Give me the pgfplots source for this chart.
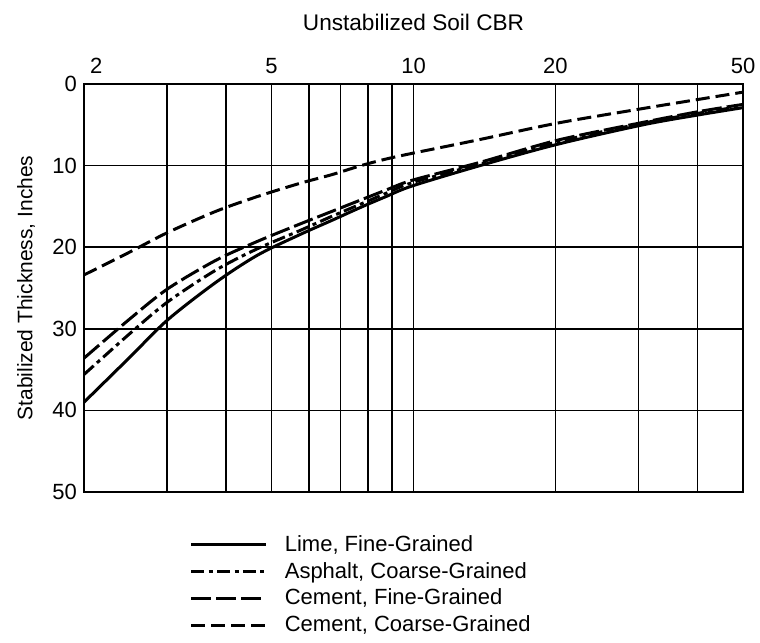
\documentclass[border=0pt]{standalone}
\usepackage{pgfplots}
\pgfplotsset{compat=1.18}
\usepackage{fontspec}
\setmainfont{Liberation Sans}
\begin{document}
\begin{tikzpicture}
\begin{axis}[
  name=main,
  scale only axis,
  width=329.5pt, height=204pt,
  xmode=log, log basis x=10,
  xmin=2, xmax=50, ymin=0, ymax=50,
  y dir=reverse,
  xtick={2,3,4,5,6,7,8,9,10,20,30,40,50},
  xticklabels={\rlap{\hspace{3pt}2},,,5,,,,,10,20,,,50},
  ytick={0,10,20,30,40,50},
  xticklabel pos=top,
  major tick length=0pt,
  minor tick num=0,
  grid=major,
  grid style={black, line width=0.75pt},
  axis line style={black, line width=0.9pt},
  /pgf/number format/assume math mode=true,
  tick label style={font=\fontsize{11}{13}\selectfont},
  xticklabel style={yshift=1.5pt},
  xlabel={Unstabilized Soil CBR},
  xlabel style={font=\fontsize{11.3}{13}\selectfont, at={(axis description cs:0.5,1)}, anchor=center, yshift=31pt},
  ylabel={Stabilized Thickness, Inches},
  ylabel style={font=\fontsize{10.5}{12}\selectfont, at={(axis description cs:-0.088,0.5)}, anchor=center},
  legend style={at={(0.16,-0.095)}, anchor=north west, draw=none, fill=none,
    font=\fontsize{11}{12.5}\selectfont, row sep=0pt, inner sep=0pt},
  legend cell align=left,
  legend image code/.code={\draw[#1] (0pt,0pt) -- (37.5pt,0pt); \path (44pt,0pt);},
]
% Lime, Fine-Grained
\addplot[black, line width=1.5pt, smooth] coordinates {
 (2,39.0) (2.50,33.5) (3.01,28.9) (3.81,24.3) (4.66,21.0) (5.72,18.5) (6.72,16.7) (7.74,15.1) (8.74,13.8) (9.93,12.5) (13.84,10.0) (20.16,7.4) (30.7,5.0) (40.1,3.8) (50,2.9)};
\addlegendentry{Lime, Fine-Grained}
% Asphalt, Coarse-Grained
\addplot[black, line width=1.5pt, smooth, dash pattern=on 6.5pt off 2.2pt on 2pt off 2.2pt] coordinates {
 (2,35.6) (2.50,30.6) (3.01,26.7) (3.81,22.8) (4.66,20.2) (5.72,18.0) (6.72,16.2) (7.74,14.7) (8.74,13.4) (9.93,12.1) (13.84,9.8) (20.16,7.1) (30.7,4.8) (40.1,3.6) (50,2.7)};
\addlegendentry{Asphalt, Coarse-Grained}
% Cement, Fine-Grained
\addplot[black, line width=1.5pt, smooth, dash pattern=on 10pt off 2.5pt] coordinates {
 (2,33.6) (2.50,28.8) (3.01,25.1) (3.81,21.6) (4.66,19.3) (5.72,17.2) (6.72,15.6) (7.74,14.2) (8.74,13.0) (9.93,11.8) (13.84,9.6) (20.16,6.9) (30.7,4.7) (40.1,3.4) (50,2.5)};
\addlegendentry{Cement, Fine-Grained}
% Cement, Coarse-Grained
\addplot[black, line width=1.5pt, smooth, dash pattern=on 7pt off 3pt] coordinates {
 (2,23.4) (2.50,20.6) (3.01,18.2) (3.81,15.6) (4.66,13.8) (5.72,12.2) (6.72,11.1) (7.74,10.0) (8.74,9.2) (9.93,8.5) (13.84,6.8) (20.16,4.8) (30.7,3.0) (40.1,1.9) (50,1.0)};
\addlegendentry{Cement, Coarse-Grained}
\end{axis}
\pgfresetboundingbox
\path (main.south west) ++(-42pt,-75.5pt) coordinate (bl);
\path (main.north east) ++(8.5pt,42pt) coordinate (tr);
\path (bl) rectangle (tr);
\end{tikzpicture}
\end{document}
